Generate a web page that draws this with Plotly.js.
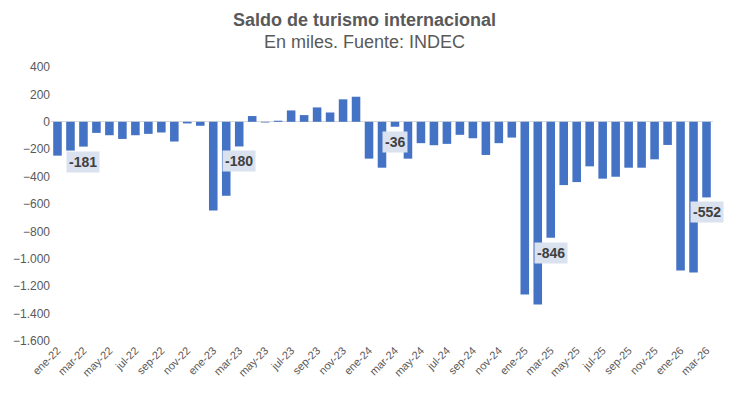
<!DOCTYPE html>
<html>
<head>
<meta charset="utf-8">
<script src="https://cdn.plot.ly/plotly-3.0.1.min.js"></script>
<style>
  html, body { margin: 0; padding: 0; background: #ffffff; }
  #chart { width: 730px; height: 393px; }
</style>
</head>
<body>
<div id="chart"></div>
<script>
const categories = [
  'ene-22','feb-22','mar-22','abr-22','may-22','jun-22','jul-22','ago-22','sep-22','oct-22','nov-22','dic-22',
  'ene-23','feb-23','mar-23','abr-23','may-23','jun-23','jul-23','ago-23','sep-23','oct-23','nov-23','dic-23',
  'ene-24','feb-24','mar-24','abr-24','may-24','jun-24','jul-24','ago-24','sep-24','oct-24','nov-24','dic-24',
  'ene-25','feb-25','mar-25','abr-25','may-25','jun-25','jul-25','ago-25','sep-25','oct-25','nov-25','dic-25',
  'ene-26','feb-26','mar-26'
];
const saldo = [
  -247, -210, -181, -81, -98, -125, -98, -88, -78, -144, -12, -29,
  -648, -540, -180, 42, -5, 8, 83, 49, 105, 68, 164, 183,
  -269, -335, -36, -269, -156, -171, -161, -95, -120, -242, -156, -115,
  -1261, -1334, -846, -462, -440, -325, -415, -401, -335, -335, -274, -169,
  -1085, -1100, -552
];
const tickLabels = [
  'ene-22','mar-22','may-22','jul-22','sep-22','nov-22',
  'ene-23','mar-23','may-23','jul-23','sep-23','nov-23',
  'ene-24','mar-24','may-24','jul-24','sep-24','nov-24',
  'ene-25','mar-25','may-25','jul-25','sep-25','nov-25',
  'ene-26','mar-26'
];
const labeledMonths = ['mar-22','mar-23','mar-24','mar-25','mar-26'];
const titleText = 'Saldo de turismo internacional';
const subtitleText = 'En miles. Fuente: INDEC';

const FONT = 'Liberation Sans, Arial, sans-serif';

const annotations = labeledMonths.map(function (m) {
  const v = saldo[categories.indexOf(m)];
  return {
    x: m, y: v, xref: 'x', yref: 'y',
    text: '<b>' + v + '</b>',
    showarrow: false,
    yshift: -15,
    bgcolor: '#dae1ef',
    borderpad: 2,
    font: { family: FONT, size: 14, color: '#404040' }
  };
});
annotations.push({
  xref: 'paper', yref: 'paper', x: 0.4743, y: 1.1715,
  xanchor: 'center', yanchor: 'middle', showarrow: false,
  text: '<b>' + titleText + '</b>',
  font: { family: FONT, size: 18, color: '#595959' }
});
annotations.push({
  xref: 'paper', yref: 'paper', x: 0.4743, y: 1.091,
  xanchor: 'center', yanchor: 'middle', showarrow: false,
  text: subtitleText,
  font: { family: FONT, size: 18, color: '#595959' }
});

const trace = {
  type: 'bar',
  x: categories,
  y: saldo,
  marker: { color: '#4472c4' },
  hoverinfo: 'x+y'
};

const layout = {
  width: 730, height: 393,
  paper_bgcolor: '#ffffff', plot_bgcolor: '#ffffff',
  margin: { l: 51, r: 17, t: 67, b: 52 },
  separators: ',.',
  bargap: 0.34,
  showlegend: false,
  font: { family: FONT, color: '#595959' },
  xaxis: {
    type: 'category',
    automargin: false,
    range: [-0.5, categories.length - 0.5],
    tickmode: 'array',
    tickvals: tickLabels,
    ticktext: tickLabels,
    tickangle: -45,
    tickfont: { size: 11, color: '#595959' },
    showgrid: false,
    showline: false,
    ticks: '',
    zeroline: false
  },
  yaxis: {
    automargin: false,
    range: [-1600, 400],
    dtick: 200,
    tickformat: ',d',
    tickfont: { size: 12, color: '#595959' },
    showgrid: false,
    zeroline: true,
    zerolinecolor: '#d9d9d9',
    zerolinewidth: 1,
    showline: false,
    ticks: ''
  },
  annotations: annotations
};

Plotly.newPlot('chart', [trace], layout, { displayModeBar: false, staticPlot: true });
</script>
</body>
</html>
